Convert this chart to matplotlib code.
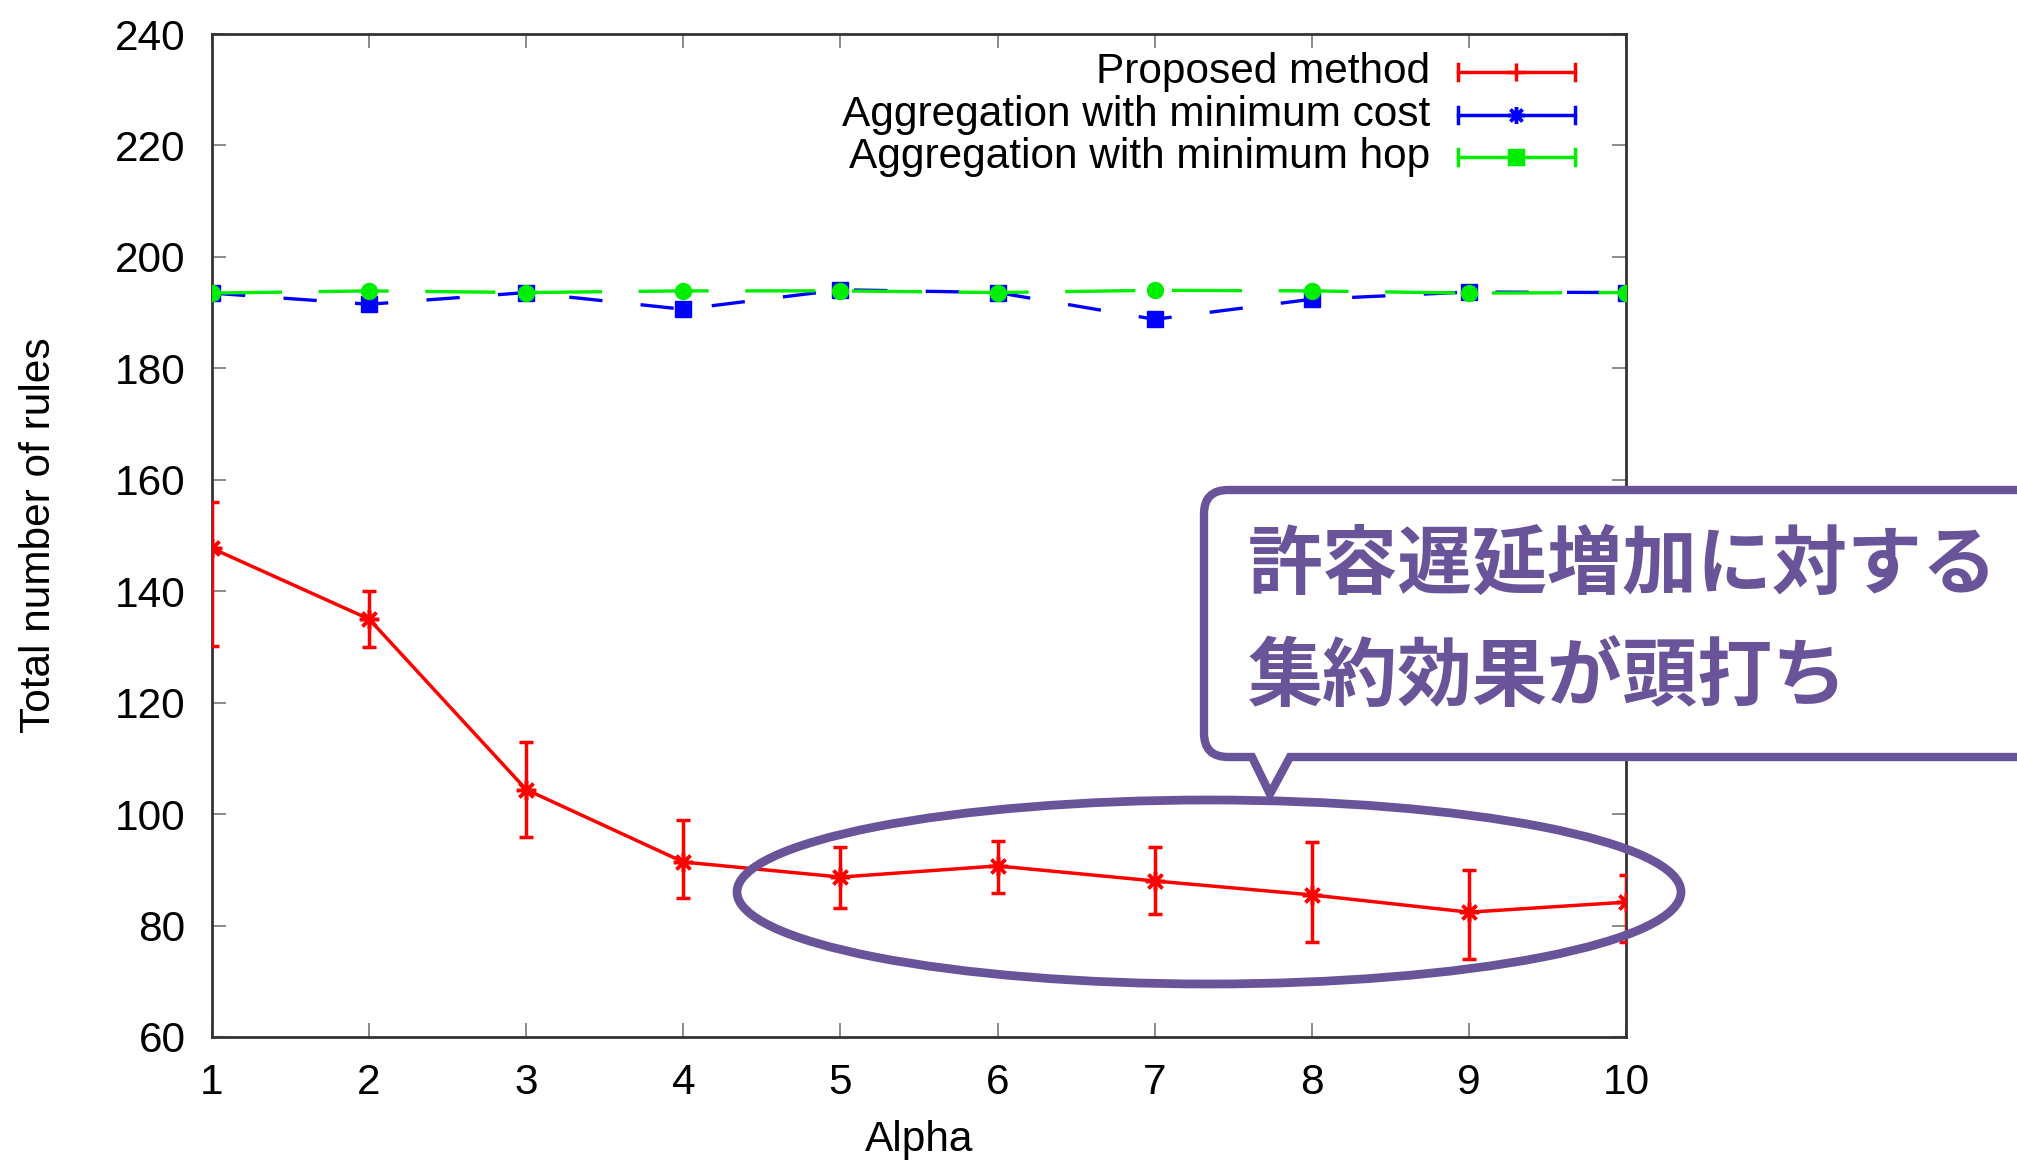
import matplotlib
matplotlib.use("Agg")
import matplotlib.pyplot as plt
from matplotlib.patches import Ellipse, PathPatch
from matplotlib.path import Path
from matplotlib.transforms import Affine2D
from matplotlib.lines import Line2D

# values
alpha = [1, 2, 3, 4, 5, 6, 7, 8, 9, 10]
proposed = [147.7, 135.0, 104.4, 91.4, 88.7, 90.7, 88.0, 85.5, 82.4, 84.2]
proposed_low = [130.1, 130.0, 95.9, 85.0, 83.1, 85.9, 82.0, 77.0, 74.0, 77.0]
proposed_high = [156.0, 140.0, 113.0, 99.0, 94.1, 95.1, 94.1, 95.0, 90.0, 89.0]
min_cost = [193.5, 191.5, 193.6, 190.6, 194.1, 193.6, 188.8, 192.4, 193.7, 193.6]
min_hop = [193.5, 193.9, 193.6, 193.9, 193.9, 193.6, 194.0, 193.9, 193.5, 193.6]

legend_labels = ["Proposed method", "Aggregation with minimum cost",
                 "Aggregation with minimum hop"]
callout_lines = ["許容遅延増加に対する", "集約効果が頭打ち"]

W, H = 2017, 1162
PURPLE = "#69549a"
RED, BLUE, GREEN = "#ff0000", "#0000ff", "#00ee00"
ASTER = (8, 2, 0)


def px_transform(fig):
    """pixel coordinates measured from the top-left corner of the image"""
    return Affine2D().scale(1 / W, -1 / H).translate(0, 1) + fig.transFigure


def main():
    plt.rcParams["font.family"] = ["Liberation Sans", "DejaVu Sans"]
    fig = plt.figure(figsize=(W / 100, H / 100), dpi=100)
    ax = fig.add_axes([212 / W, 1 - 1037 / H, 1414 / W, 1003 / H])
    px = px_transform(fig)

    err = [[p - lo for p, lo in zip(proposed, proposed_low)],
           [hi - p for p, hi in zip(proposed, proposed_high)]]
    ax.errorbar(alpha, proposed, yerr=err, color=RED, lw=2.5, marker=ASTER,
                ms=14, mew=2.5, capsize=5, capthick=2.5, elinewidth=2.5,
                zorder=3)
    ax.plot(alpha, min_cost, color=BLUE, lw=2.4, ls=(0, (10, 11.5)),
            marker="s", ms=11.5, zorder=4)
    ax.plot(alpha, min_hop, color=GREEN, lw=2.4, ls=(0, (21, 11)),
            marker="o", ms=11.5, zorder=5)

    ax.set_xlim(1, 10)
    ax.set_ylim(60, 240)
    ax.set_xticks(alpha)
    ax.set_yticks(range(60, 241, 20))
    ax.tick_params(direction="in", length=10, width=1.2, color="#777777",
                   labelsize=30.5, pad=19, top=True, right=True)
    for s in ax.spines.values():
        s.set_linewidth(2)
        s.set_color("#333333")
    ax.set_xlabel("Alpha", fontsize=30.5, labelpad=12)
    ax.set_ylabel("Total number of rules", fontsize=30.5, labelpad=40)

    # gnuplot style key, drawn by hand
    rows = [72, 115, 157]
    markers = ["+", ASTER, "s"]
    sizes = [13, 12, 10]
    for label, color, m, ms, y in zip(legend_labels, [RED, BLUE, GREEN],
                                      markers, sizes, rows):
        fig.add_artist(Line2D([1458, 1575], [y, y], transform=px,
                              color=color, lw=2.5))
        for xc in (1458, 1575):
            fig.add_artist(Line2D([xc, xc], [y - 8, y + 8], transform=px,
                                  color=color, lw=2.5))
        fig.add_artist(Line2D([1516], [y], transform=px, color=color,
                              marker=m, ms=ms, mew=2.5))
        fig.text(1430, y, label, transform=px, ha="right", va="center",
                 fontsize=30.5)

    # ellipse around the flat part of the curve
    fig.add_artist(Ellipse((1209, 892), 944, 184, transform=px,
                           fill=False, edgecolor=PURPLE, lw=6.3, zorder=6))

    # speech bubble
    L, T, R, B, r = 1204, 490, 2080, 757, 24
    verts = [(L + r, T), (R, T), (R, B), (1290, B), (1270, 794), (1252, B),
             (L + r, B), (L, B), (L, B - r), (L, T + r), (L, T), (L + r, T),
             (L + r, T)]
    codes = [Path.MOVETO, Path.LINETO, Path.LINETO, Path.LINETO, Path.LINETO,
             Path.LINETO, Path.LINETO, Path.CURVE3, Path.CURVE3, Path.LINETO,
             Path.CURVE3, Path.CURVE3, Path.CLOSEPOLY]
    fig.add_artist(PathPatch(Path(verts, codes), transform=px,
                             facecolor="white", edgecolor=PURPLE, lw=6,
                             joinstyle="miter", zorder=7))
    for line, y in zip(callout_lines, [566, 678]):
        fig.text(1248, y, line, transform=px, ha="left", va="center",
                 fontsize=54, fontweight="bold", color=PURPLE,
                 family=["Noto Sans CJK JP", "DejaVu Sans"], zorder=8)

    fig.savefig("out.png", dpi=100)


if __name__ == "__main__":
    main()
